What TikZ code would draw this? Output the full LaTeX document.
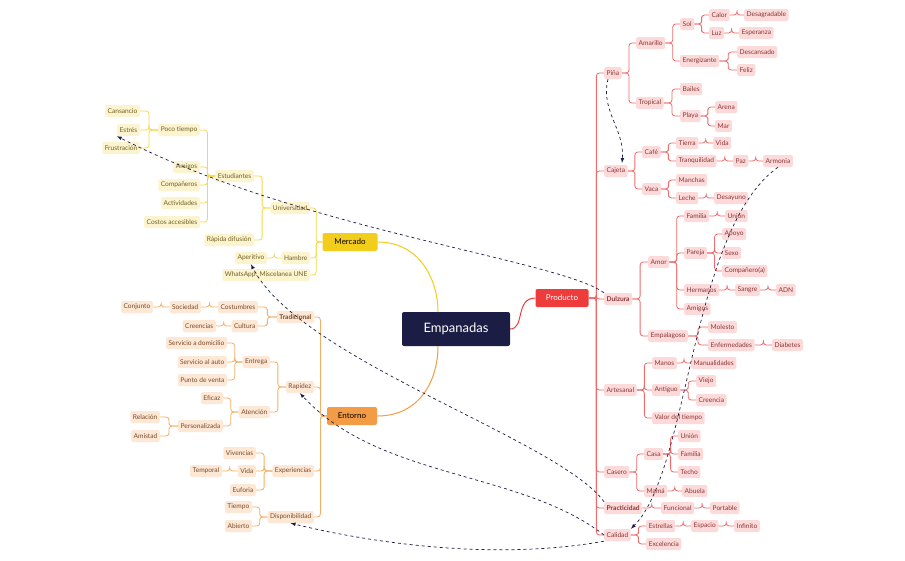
\documentclass[tikz,border=0pt]{standalone}
\usepackage{fontspec}
\setmainfont{Lato}
\usetikzlibrary{calc}
\definecolor{rf}{HTML}{FDDADA}\definecolor{rt}{HTML}{8A3434}\definecolor{rl}{HTML}{F26B6B}
\definecolor{yf}{HTML}{FCF3CF}\definecolor{yt}{HTML}{6E6225}\definecolor{yl}{HTML}{F6D84A}
\definecolor{of}{HTML}{FDE7D5}\definecolor{ot}{HTML}{7A4A28}\definecolor{ol}{HTML}{F6AE66}
\definecolor{navy}{HTML}{1C1D44}
\definecolor{pr}{HTML}{EE3B3B}\definecolor{mc}{HTML}{F2CD1C}\definecolor{en}{HTML}{F39C45}
\tikzset{
 base/.style={rounded corners=2pt,inner xsep=2.5pt,inner ysep=0pt,minimum height=12pt,font=\fontsize{6.6}{7}\selectfont},
 R/.style={base,fill=rf,text=rt,anchor=west},
 Y/.style={base,fill=yf,text=yt,anchor=east},
 O/.style={base,fill=of,text=ot,anchor=east},
 er/.style={to path={(\tikztostart.east) -| ($(\tikztostart.east)!.5!(\tikztotarget.west)$) |- (\tikztotarget.west)}},
 el/.style={to path={(\tikztostart.west) -| ($(\tikztostart.west)!.5!(\tikztotarget.east)$) |- (\tikztotarget.east)}},
 lr/.style={draw=rl,line width=0.8pt,rounded corners=3pt},
 ly/.style={draw=yl,line width=0.8pt,rounded corners=3pt},
 lo/.style={draw=ol,line width=0.8pt,rounded corners=3pt},
 relarrow/.style={draw=navy,dashed,line width=0.7pt,-latex}
}
\begin{document}
\begin{tikzpicture}[x=1pt,y=-1pt]
\useasboundingbox[fill=white] (0,0) rectangle (905,560);
% main
\node[rounded corners=2pt,fill=navy,text=white,minimum width=108pt,minimum height=34pt,font=\fontsize{13}{14}\selectfont] (root) at (456,329) {Empanadas};
\node[rounded corners=2pt,fill=pr,text=white,minimum width=53pt,minimum height=18pt,font=\fontsize{8}{9}\selectfont] (prod) at (562,298) {Producto};
\node[rounded corners=2pt,fill=mc,text=black,minimum width=55pt,minimum height=18pt,font=\fontsize{8}{9}\selectfont] (merc) at (350,242) {Mercado};
\node[rounded corners=2pt,fill=en,text=black,minimum width=50pt,minimum height=18pt,font=\fontsize{8}{9}\selectfont] (ent) at (352,416) {Entorno};
\draw[draw=pr,line width=1pt] (root.east) .. controls (525,329) and (515,298) .. (prod.west);
\draw[draw=mc,line width=1pt] (merc.east) .. controls (420,242) and (438,280) .. (438,312);
\draw[draw=en,line width=1pt] (ent.east) .. controls (420,416) and (438,380) .. (438,346);
% right side
\node[R] (pina) at (604,73) {Piña};
\node[R] (ama) at (636,43) {Amarillo};
\node[R] (trop) at (636,103) {Tropical};
\node[R] (sol) at (680,24) {Sol};
\node[R] (ener) at (680,61) {Energizante};
\node[R] (calor) at (709,15) {Calor};
\node[R] (luz) at (709,33) {Luz};
\node[R] (desa) at (744,15) {Desagradable};
\node[R] (esp) at (739,33) {Esperanza};
\node[R] (desc) at (737,52) {Descansado};
\node[R] (feliz) at (737,70) {Feliz};
\node[R] (bail) at (680,89) {Bailes};
\node[R] (playa) at (680,116) {Playa};
\node[R] (arena) at (715,107) {Arena};
\node[R] (mar) at (715,126) {Mar};
\node[R] (caj) at (604,171) {Cajeta};
\node[R] (cafe) at (642,152) {Café};
\node[R] (vaca) at (642,189) {Vaca};
\node[R] (tierra) at (676,143) {Tierra};
\node[R] (tranq) at (676,161) {Tranquilidad};
\node[R] (vida) at (713,143) {Vida};
\node[R] (paz) at (733,161) {Paz};
\node[R] (armo) at (763,161) {Armonia};
\node[R] (manch) at (676,180) {Manchas};
\node[R] (leche) at (676,198) {Leche};
\node[R] (desay) at (714,198) {Desayuno};
\node[R,font=\fontsize{6.6}{7}\selectfont\bfseries] (dulz) at (604,299) {Dulzura};
\node[R] (amor) at (648,262) {Amor};
\node[R] (fam) at (684,216) {Familia};
\node[R] (union) at (725,216) {Unión};
\node[R] (pareja) at (684,253) {Pareja};
\node[R] (apoyo) at (722,234) {Apoyo};
\node[R] (sexo) at (722,253) {Sexo};
\node[R] (comp) at (722,271) {Compañero(a)};
\node[R] (herm) at (684,290) {Hermanos};
\node[R] (sangre) at (735,290) {Sangre};
\node[R] (adn) at (776,290) {ADN};
\node[R] (amig) at (684,309) {Amigos};
\node[R] (empa) at (648,336) {Empalagoso};
\node[R] (moles) at (708,327) {Molesto};
\node[R] (enfer) at (708,345) {Enfermedades};
\node[R] (diab) at (772,345) {Diabetes};
\node[R] (arte) at (604,390) {Artesanal};
\node[R] (manos) at (652,363) {Manos};
\node[R] (manu) at (691,363) {Manualidades};
\node[R] (anti) at (652,390) {Antiguo};
\node[R] (viejo) at (696,381) {Viejo};
\node[R] (creen) at (696,400) {Creencia};
\node[R] (valor) at (652,418) {Valor del tiempo};
\node[R] (caser) at (604,472) {Casero};
\node[R] (casa) at (644,454) {Casa};
\node[R] (union2) at (678,436) {Unión};
\node[R] (fam2) at (678,454) {Familia};
\node[R] (techo) at (678,472) {Techo};
\node[R] (mama) at (644,491) {Mamá};
\node[R] (abu) at (682,491) {Abuela};
\node[R,font=\fontsize{6.6}{7}\selectfont\bfseries] (prac) at (604,508) {Practicidad};
\node[R] (func) at (661,508) {Funcional};
\node[R] (port) at (710,508) {Portable};
\node[R] (cali) at (604,535) {Calidad};
\node[R] (estr) at (646,526) {Estrellas};
\node[R] (espa) at (691,526) {Espacio};
\node[R] (infi) at (734,526) {Infinito};
\node[R] (exce) at (646,544) {Excelencia};
\foreach \p/\c in {prod/pina,prod/caj,prod/dulz,prod/arte,prod/caser,prod/prac,prod/cali,
 pina/ama,pina/trop,ama/sol,ama/ener,sol/calor,sol/luz,calor/desa,luz/esp,ener/desc,ener/feliz,
 trop/bail,trop/playa,playa/arena,playa/mar,caj/cafe,caj/vaca,cafe/tierra,cafe/tranq,tierra/vida,tranq/paz,paz/armo,
 vaca/manch,vaca/leche,leche/desay,dulz/amor,dulz/empa,amor/fam,amor/pareja,amor/herm,amor/amig,fam/union,
 pareja/apoyo,pareja/sexo,pareja/comp,herm/sangre,sangre/adn,empa/moles,empa/enfer,enfer/diab,
 arte/manos,arte/anti,arte/valor,manos/manu,anti/viejo,anti/creen,caser/casa,caser/mama,casa/union2,casa/fam2,casa/techo,
 mama/abu,prac/func,func/port,cali/estr,cali/exce,estr/espa,espa/infi}
 \draw[lr] (\p) to[er] (\c);
% Mercado
\node[Y] (univ) at (310,208) {Universidad};
\node[Y] (hamb) at (310,258) {Hambre};
\node[Y] (whats) at (310,275) {WhatsApp: Miscelanea UNE};
\node[Y] (aper) at (267,258) {Aperitivo};
\node[Y] (estu) at (254,176) {Estudiantes};
\node[Y] (rapd) at (254,240) {Rápida difusión};
\node[Y] (poco) at (200,130) {Poco tiempo};
\node[Y] (amigy) at (200,167) {Amigos};
\node[Y] (compy) at (200,185) {Compañeros};
\node[Y] (acti) at (200,203) {Actividades};
\node[Y] (cost) at (200,222) {Costos accesibles};
\node[Y] (cans) at (140,111) {Cansancio};
\node[Y] (estres) at (140,130) {Estrés};
\node[Y] (frus) at (140,148) {Frustración};
\foreach \p/\c in {merc/univ,merc/hamb,merc/whats,hamb/aper,univ/estu,univ/rapd,estu/poco,estu/amigy,estu/compy,estu/acti,estu/cost,
 poco/cans,poco/estres,poco/frus}
 \draw[ly] (\p) to[el] (\c);
% Entorno
\node[O,font=\fontsize{6.6}{7}\selectfont\bfseries] (trad) at (314,317) {Tradicional};
\node[O] (cost2) at (258,307) {Costumbres};
\node[O] (cult) at (258,326) {Cultura};
\node[O] (soc) at (201,307) {Sociedad};
\node[O] (conj) at (153,307) {Conjunto};
\node[O] (creen2) at (216,326) {Creencias};
\node[O] (rapi) at (314,387) {Rapidez};
\node[O] (entr) at (270,362) {Entrega};
\node[O] (aten) at (270,412) {Atención};
\node[O] (sdom) at (227,343) {Servicio a domicilio};
\node[O] (saut) at (227,362) {Servicio al auto};
\node[O] (pven) at (227,380) {Punto de venta};
\node[O] (efic) at (223,398) {Eficaz};
\node[O] (pers) at (223,426) {Personalizada};
\node[O] (rela) at (160,417) {Relación};
\node[O] (amis) at (160,436) {Amistad};
\node[O] (expe) at (314,471) {Experiencias};
\node[O] (vive) at (256,453) {Vivencias};
\node[O] (vida2) at (256,471) {Vida};
\node[O] (eufo) at (256,490) {Euforia};
\node[O] (temp) at (222,471) {Temporal};
\node[O] (disp) at (314,517) {Disponibilidad};
\node[O] (tiem) at (252,507) {Tiempo};
\node[O] (abie) at (252,526) {Abierto};
\foreach \p/\c in {ent/trad,ent/rapi,ent/expe,ent/disp,trad/cost2,trad/cult,cost2/soc,soc/conj,cult/creen2,
 rapi/entr,rapi/aten,entr/sdom,entr/saut,entr/pven,aten/efic,aten/pers,pers/rela,pers/amis,
 expe/vive,expe/vida2,expe/eufo,vida2/temp,disp/tiem,disp/abie}
 \draw[lo] (\p) to[el] (\c);
% dashed relations
\coordinate (cajtop) at (622,163);
\draw[relarrow] ([xshift=4pt]pina.south west) .. controls (600,110) and (625,130) .. (cajtop);
\draw[relarrow] (dulz.north west) .. controls (560,260) and (300,230) .. (estres.south west);
\draw[relarrow] (armo.south) .. controls (690,230) and (690,470) .. (cali.north east);
\draw[relarrow] (prac.north west) .. controls (560,440) and (300,360) .. (aper.south);
\draw[relarrow] (cali.west) .. controls (520,470) and (380,480) .. (rapi.south);
\draw[relarrow] (cali.south west) .. controls (500,560) and (380,545) .. (disp.south);
\end{tikzpicture}
\end{document}
